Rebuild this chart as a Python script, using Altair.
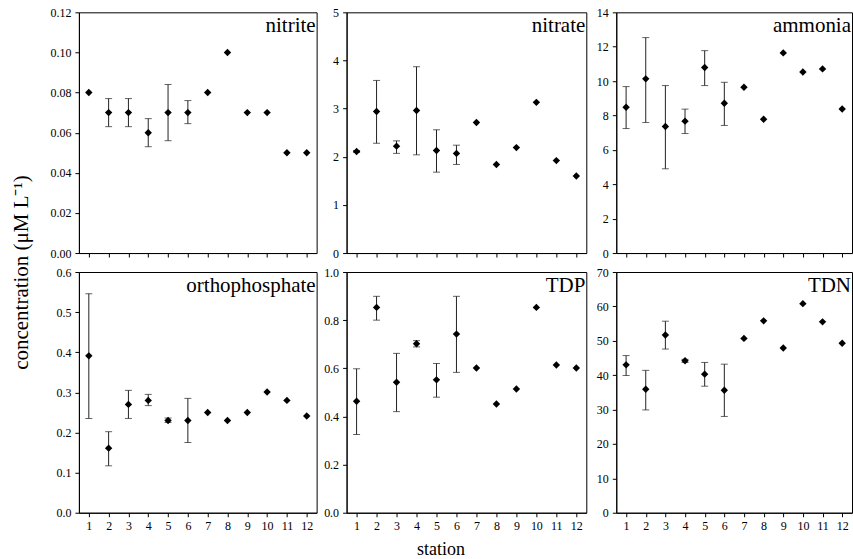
import altair as alt
import pandas as pd

FONT = "Liberation Serif"

stations = list(range(1, 13))

nitrite_mean = [0.080, 0.070, 0.070, 0.060, 0.070, 0.070, 0.080, 0.100, 0.070, 0.070, 0.050, 0.050]
nitrite_lo = [None, 0.063, 0.063, 0.053, 0.056, 0.0645, None, None, None, None, None, None]
nitrite_hi = [None, 0.077, 0.077, 0.067, 0.084, 0.076, None, None, None, None, None, None]

nitrate_mean = [2.11, 2.94, 2.22, 2.96, 2.13, 2.07, 2.71, 1.84, 2.19, 3.13, 1.92, 1.60]
nitrate_lo = [2.09, 2.28, 2.07, 2.04, 1.68, 1.84, None, None, None, None, None, None]
nitrate_hi = [2.13, 3.585, 2.33, 3.87, 2.56, 2.24, None, None, None, None, None, None]

ammonia_mean = [8.48, 10.13, 7.36, 7.67, 10.79, 8.71, 9.64, 7.78, 11.64, 10.53, 10.71, 8.38]
ammonia_lo = [7.24, 7.59, 4.90, 6.95, 9.74, 7.42, None, None, None, None, None, None]
ammonia_hi = [9.68, 12.53, 9.74, 8.37, 11.77, 9.93, None, None, None, None, None, None]

ortho_mean = [0.391, 0.161, 0.270, 0.280, 0.230, 0.230, 0.250, 0.230, 0.250, 0.301, 0.280, 0.241]
ortho_lo = [0.235, 0.117, 0.235, 0.267, 0.225, 0.175, None, None, None, None, None, None]
ortho_hi = [0.546, 0.202, 0.305, 0.295, 0.236, 0.285, None, None, None, None, None, None]

tdp_mean = [0.463, 0.853, 0.542, 0.702, 0.552, 0.742, 0.601, 0.452, 0.514, 0.853, 0.614, 0.601]
tdp_lo = [0.325, 0.800, 0.420, 0.689, 0.480, 0.583, None, None, None, None, None, None]
tdp_hi = [0.598, 0.899, 0.662, 0.715, 0.620, 0.899, None, None, None, None, None, None]

tdn_mean = [43.0, 35.9, 51.7, 44.2, 40.3, 35.6, 50.7, 55.8, 47.9, 60.8, 55.5, 49.3]
tdn_lo = [39.9, 29.9, 47.6, 43.7, 36.8, 28.0, None, None, None, None, None, None]
tdn_hi = [45.7, 41.4, 55.7, 44.6, 43.7, 43.2, None, None, None, None, None, None]

HEIGHT = 241


def panel(name, mean, lo, hi, ymax, step, fmt, width, xlabels, ytitle=None, xtitle=None):
    df = pd.DataFrame({"station": stations, "mean": mean, "lo": lo, "hi": hi})
    nsteps = int(round(ymax / step))
    yvals = [round(i * step, 4) for i in range(nsteps + 1)]

    xaxis_kw = dict(values=stations, labels=xlabels, grid=False, labelFlush=False)
    if xtitle:
        xaxis_kw.update(title=xtitle, titleFontSize=18, titleFontWeight="normal",
                        titleX=94, titleY=37, titleBaseline="middle", titleAlign="center")
    else:
        xaxis_kw.update(title=None)
    x = alt.X("station:Q", scale=alt.Scale(domain=[0.5, 12.5], nice=False, zero=False),
              axis=alt.Axis(**xaxis_kw))

    yaxis_kw = dict(values=yvals, format=fmt, grid=False, labelFlush=False)
    if ytitle:
        yaxis_kw.update(title=ytitle, titleFontSize=21, titleFontWeight="normal",
                        titleX=-57, titleY=0, titleBaseline="middle", titleAlign="center")
    else:
        yaxis_kw.update(title=None)
    yscale = alt.Scale(domain=[0, ymax], nice=False, zero=True)
    yaxis = alt.Axis(**yaxis_kw)

    base = alt.Chart(df).encode(x=x)
    err = base.transform_filter("isValid(datum.lo)")
    rule = err.mark_rule(color="#222", strokeWidth=1).encode(
        y=alt.Y("lo:Q", scale=yscale, axis=yaxis), y2="hi:Q")
    cap_lo = err.mark_tick(orient="horizontal", size=7, thickness=1, color="#222").encode(
        y=alt.Y("lo:Q", scale=yscale, axis=yaxis))
    cap_hi = err.mark_tick(orient="horizontal", size=7, thickness=1, color="#222").encode(
        y=alt.Y("hi:Q", scale=yscale, axis=yaxis))
    pts = base.mark_point(shape="diamond", filled=True, size=55, color="black", opacity=1).encode(
        y=alt.Y("mean:Q", scale=yscale, axis=yaxis))
    label = alt.Chart(pd.DataFrame({"t": [name]})).mark_text(
        align="right", baseline="alphabetic", fontSize=21, font=FONT, color="black"
    ).encode(text="t:N", x=alt.value(width - 1), y=alt.value(20))
    return alt.layer(rule, cap_lo, cap_hi, pts, label).properties(width=width, height=HEIGHT)


p1 = panel("nitrite", nitrite_mean, nitrite_lo, nitrite_hi, 0.12, 0.02, ".2f", 238, False)
p2 = panel("nitrate", nitrate_mean, nitrate_lo, nitrate_hi, 5, 1, "d", 240, False)
p3 = panel("ammonia", ammonia_mean, ammonia_lo, ammonia_hi, 14, 2, "d", 236, False)
p4 = panel("orthophosphate", ortho_mean, ortho_lo, ortho_hi, 0.6, 0.1, ".1f", 238, True,
           ytitle="concentration (\u03bcM L\u207b\u00b9)")
p5 = panel("TDP", tdp_mean, tdp_lo, tdp_hi, 1.0, 0.2, ".1f", 240, True, xtitle="station")
p6 = panel("TDN", tdn_mean, tdn_lo, tdn_hi, 70, 10, "d", 236, True)

chart = alt.concat(p1, p2, p3, p4, p5, p6, columns=3,
                   spacing={"row": 19, "column": 30}, bounds="flush").properties(
    padding={"left": 10, "top": 5, "right": 0, "bottom": 2},
    background="white"
).configure_view(
    stroke="black", strokeWidth=1
).configure_axis(
    domainColor="black", tickColor="black", labelColor="black", labelFont=FONT,
    labelFontSize=12, tickSize=4, domainWidth=1, tickWidth=1, labelPadding=4,
    titleFont=FONT, titleColor="black"
)

chart.save("out.html", embed_options={"renderer": "svg", "actions": False})
